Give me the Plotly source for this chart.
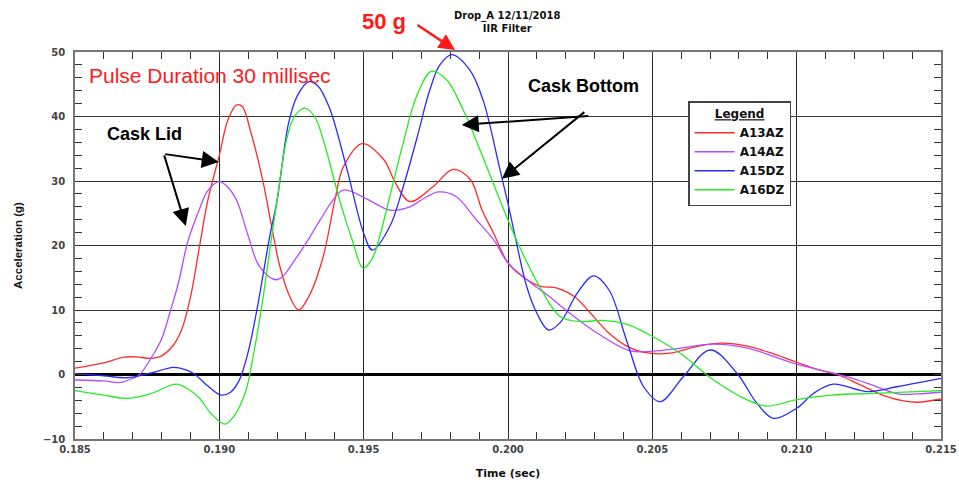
import plotly.graph_objects as go

# ---- data ----
a13az_t = [0.1850, 0.1860, 0.1867, 0.1872, 0.1876, 0.1880, 0.1884, 0.1887, 0.1890, 0.1893,
           0.1896, 0.1900, 0.1903, 0.1906, 0.1908, 0.1911, 0.1915, 0.1918, 0.1921, 0.19244,
           0.19275, 0.1931, 0.1936, 0.1940, 0.1943, 0.19495, 0.1957, 0.1961, 0.1966, 0.1974,
           0.1981, 0.1987, 0.1991, 0.1995, 0.2000, 0.2005, 0.2011, 0.2017, 0.2023, 0.2028,
           0.2035, 0.2042, 0.2049, 0.2056, 0.2065, 0.2074, 0.2083, 0.2092, 0.2100, 0.2107,
           0.2114, 0.2122, 0.2131, 0.2137, 0.2142, 0.2150]
a13az_g = [1.0, 1.8, 2.7, 2.7, 2.5, 2.9, 4.5, 7.0, 12.0, 19.5,
           27.0, 34.0, 39.5, 41.8, 41.5, 37.4, 30.2, 23.2, 16.7, 12.1,
           10.0, 12.1, 18.3, 27.0, 32.2, 35.8, 33.3, 29.7, 26.8, 29.1,
           31.8, 30.2, 25.5, 21.9, 17.3, 15.2, 13.7, 13.4, 12.1, 9.8,
           6.4, 4.2, 3.3, 3.3, 4.3, 4.85, 4.4, 3.2, 1.9, 0.8,
           0.0, -1.6, -3.4, -4.1, -4.3, -3.8]

a14az_t = [0.1850, 0.1860, 0.18655, 0.1870, 0.18724, 0.1877, 0.1880, 0.1883, 0.1886, 0.1889,
           0.1893, 0.1896, 0.1900, 0.1903, 0.1906, 0.1910, 0.1914, 0.1920, 0.1927, 0.1935,
           0.1939, 0.1943, 0.1952, 0.1959, 0.1966, 0.1972, 0.1976, 0.1982, 0.1989,
           0.1995, 0.2000, 0.2008, 0.2014, 0.2020, 0.2031, 0.2042, 0.2050, 0.2060, 0.2071,
           0.2083, 0.2092, 0.2100, 0.2117, 0.2126, 0.2135, 0.2142, 0.2150]
a14az_g = [-0.85, -1.0, -1.25, -0.6, 0.0, 3.0, 5.5, 9.8, 14.5, 20.5,
           25.5, 28.5, 29.9, 29.0, 27.0, 21.5, 16.7, 14.7, 18.3, 24.0,
           26.8, 28.6, 27.0, 25.5, 26.0, 27.6, 28.3, 27.6, 24.0,
           20.9, 17.3, 14.2, 12.2, 10.0, 6.4, 3.7, 3.6, 4.1, 4.7,
           4.1, 2.8, 1.6, -0.3, -1.6, -3.0, -3.0, -2.75]

a15dz_t = [0.1850, 0.1860, 0.1868, 0.1876, 0.1884, 0.1887, 0.1891, 0.1896, 0.19007, 0.1904,
           0.1907, 0.1910, 0.1913, 0.19175, 0.1920, 0.1924, 0.1927, 0.1931, 0.1934, 0.1938,
           0.1944, 0.1950, 0.1953, 0.1959, 0.19637, 0.19683, 0.19729, 0.19764, 0.19805,
           0.19868, 0.19914, 0.1997, 0.2000, 0.2002, 0.20065, 0.2010, 0.2014, 0.2018,
           0.2024, 0.20296, 0.2035, 0.2041, 0.2047, 0.20527, 0.20608, 0.20701, 0.20793, 0.20862,
           0.2092, 0.21001, 0.21059, 0.21127, 0.21243, 0.21347, 0.2150]
a15dz_g = [0.1, -0.2, -0.5, 0.2, 1.1, 0.9, 0.2, -1.8, -3.2, -2.7,
           -0.8, 3.5, 10.0, 21.5, 27.0, 39.0, 43.2, 45.4, 44.8, 41.5,
           32.2, 21.9, 19.3, 22.9, 29.1, 36.4, 44.1, 48.0, 49.6,
           47.2, 42.5, 32.2, 26.5, 22.4, 13.6, 9.5, 6.9, 8.0,
           12.6, 15.3, 13.1, 5.4, -1.9, -4.2, -0.3, 3.8, 0.2, -4.45,
           -6.8, -5.2, -2.9, -1.5, -2.65, -1.9, -0.6]

a16dz_t = [0.1850, 0.1860, 0.1868, 0.1876, 0.1885, 0.1889, 0.1893, 0.1897, 0.19019, 0.1905,
           0.1909, 0.1912, 0.1915, 0.1918, 0.1920, 0.19233, 0.1926, 0.19296, 0.1933, 0.1936,
           0.19417, 0.1946, 0.19498, 0.1953, 0.19556, 0.1959, 0.19637, 0.19683, 0.19735, 0.19787,
           0.19845, 0.19903, 0.19995, 0.2004, 0.2011, 0.2018, 0.2025, 0.2033, 0.2041, 0.2048,
           0.20596, 0.20711, 0.20827, 0.20896, 0.2100, 0.2112, 0.2129, 0.2150]
a16dz_g = [-2.5, -3.2, -3.7, -3.0, -1.5, -2.2, -3.6, -6.0, -7.7, -6.5,
           -2.8, 3.5, 11.5, 20.9, 27.0, 36.4, 40.0, 41.3, 40.0, 36.4,
           27.0, 20.9, 16.5, 18.0, 21.5, 27.5, 35.9, 43.1, 47.0, 45.7,
           41.0, 34.8, 24.5, 19.8, 13.6, 9.0, 8.2, 8.4, 7.8, 6.4,
           3.3, -0.8, -3.9, -4.9, -3.9, -3.2, -2.9, -2.5]

series_names = ["A13AZ", "A14AZ", "A15DZ", "A16DZ"]
series_t = [a13az_t, a14az_t, a15dz_t, a16dz_t]
series_g = [a13az_g, a14az_g, a15dz_g, a16dz_g]
series_colors = ["#ff2b2b", "#b44dff", "#2a2aff", "#22ee22"]

x_ticks = [0.185, 0.190, 0.195, 0.200, 0.205, 0.210, 0.215]
x_ticklabels = ["0.185", "0.190", "0.195", "0.200", "0.205", "0.210", "0.215"]
y_ticks = [-10, 0, 10, 20, 30, 40, 50]

fig = go.Figure()
for name, t, g, c in zip(series_names, series_t, series_g, series_colors):
    fig.add_trace(go.Scatter(x=t, y=g, name=name, mode="lines",
                             line=dict(color=c, width=1.3, shape="spline", smoothing=1.0)))

tickfont = dict(family="DejaVu Sans", size=10, color="#444444", weight="bold")

fig.update_layout(
    width=959, height=482,
    margin=dict(l=75, r=18, t=52, b=43),
    paper_bgcolor="white", plot_bgcolor="white",
    showlegend=True,
    legend=dict(x=0.708, y=0.873, xanchor="left", yanchor="top",
                bgcolor="white", bordercolor="#444444", borderwidth=1.5,
                font=dict(family="DejaVu Sans", size=12, color="#111111", weight="bold"),
                title=dict(text="<u>Legend</u>", side="top center",
                           font=dict(family="DejaVu Sans", size=12, color="#111111", weight="bold")),
                itemwidth=40, tracegroupgap=0),
    xaxis=dict(range=[0.185, 0.215], tickvals=x_ticks, ticktext=x_ticklabels,
               automargin=False,
               showgrid=True, gridcolor="#222222", gridwidth=1.3,
               showline=True, linecolor="#777777", linewidth=1.5, mirror="allticks",
               ticks="inside", ticklen=7, tickcolor="#333333",
               minor=dict(dtick=0.001, ticks="inside", ticklen=7, tickcolor="#333333", showgrid=False),
               tickfont=tickfont, zeroline=False,
               title=dict(text="Time (sec)", standoff=16,
                          font=dict(family="DejaVu Sans", size=11, color="#111111", weight="bold"))),
    yaxis=dict(range=[-10, 50], tickvals=y_ticks,
               automargin=False,
               showgrid=True, gridcolor="#333333", gridwidth=1.3,
               showline=True, linecolor="#777777", linewidth=1.5, mirror="allticks",
               ticks="inside", ticklen=7, tickcolor="#333333",
               minor=dict(dtick=2, ticks="inside", ticklen=7, tickcolor="#333333", showgrid=False),
               tickfont=tickfont, ticklabelstandoff=6,
               zeroline=True, zerolinecolor="#000000", zerolinewidth=2.5,
               title=dict(text="Acceleration (g)", standoff=18,
                          font=dict(family="Liberation Sans", size=11.5, color="#111111", weight="bold"))),
)

annotations = [
    dict(text="Drop_A 12/11/2018<br>IIR Filter", xref="paper", yref="paper", x=0.4989, y=1.0775,
         showarrow=False, xanchor="center", yanchor="middle",
         font=dict(family="DejaVu Sans", size=10, color="#111111", weight="bold")),
    dict(text="50 g", xref="paper", yref="paper", x=0.3567, y=1.080, showarrow=False,
         xanchor="center", yanchor="middle",
         font=dict(family="Liberation Sans", size=22, color="#ff1a1a", weight="bold")),
    dict(text="", xref="paper", yref="paper", x=0.4388, y=1.0052, ax=-39, ay=-26,
         showarrow=True, arrowhead=2, arrowsize=1.3, arrowwidth=2.5, arrowcolor="#ff1a1a", standoff=0),
    dict(text="Pulse Duration 30 millisec", xref="paper", yref="paper", x=0.0135, y=0.938,
         showarrow=False, xanchor="left", yanchor="middle",
         font=dict(family="Liberation Sans", size=21, color="#ff1a1a")),
    dict(text="Cask Lid", xref="paper", yref="paper", x=0.0343, y=0.788,
         showarrow=False, xanchor="left", yanchor="middle",
         font=dict(family="Liberation Sans", size=18, color="#000000", weight="bold")),
    dict(text="Cask Bottom", xref="paper", yref="paper", x=0.5208, y=0.912,
         showarrow=False, xanchor="left", yanchor="middle",
         font=dict(family="Liberation Sans", size=18, color="#000000", weight="bold")),
]
arrow_style = dict(text="", showarrow=True, arrowhead=2, arrowsize=1.7, arrowwidth=2,
                   arrowcolor="#000000", standoff=0, xref="x", yref="y", axref="x", ayref="y")
annotations += [
    dict(x=0.18998, y=32.96, ax=0.188074, ay=34.2, **arrow_style),
    dict(x=0.188837, y=23.04, ax=0.188074, ay=34.2, **arrow_style),
    dict(x=0.198397, y=38.7, ax=0.202834, ay=40.09, **arrow_style),
    dict(x=0.19979, y=30.33, ax=0.202696, ay=40.87, **arrow_style),
]
fig.update_layout(annotations=annotations)

fig.write_html("out.html")
